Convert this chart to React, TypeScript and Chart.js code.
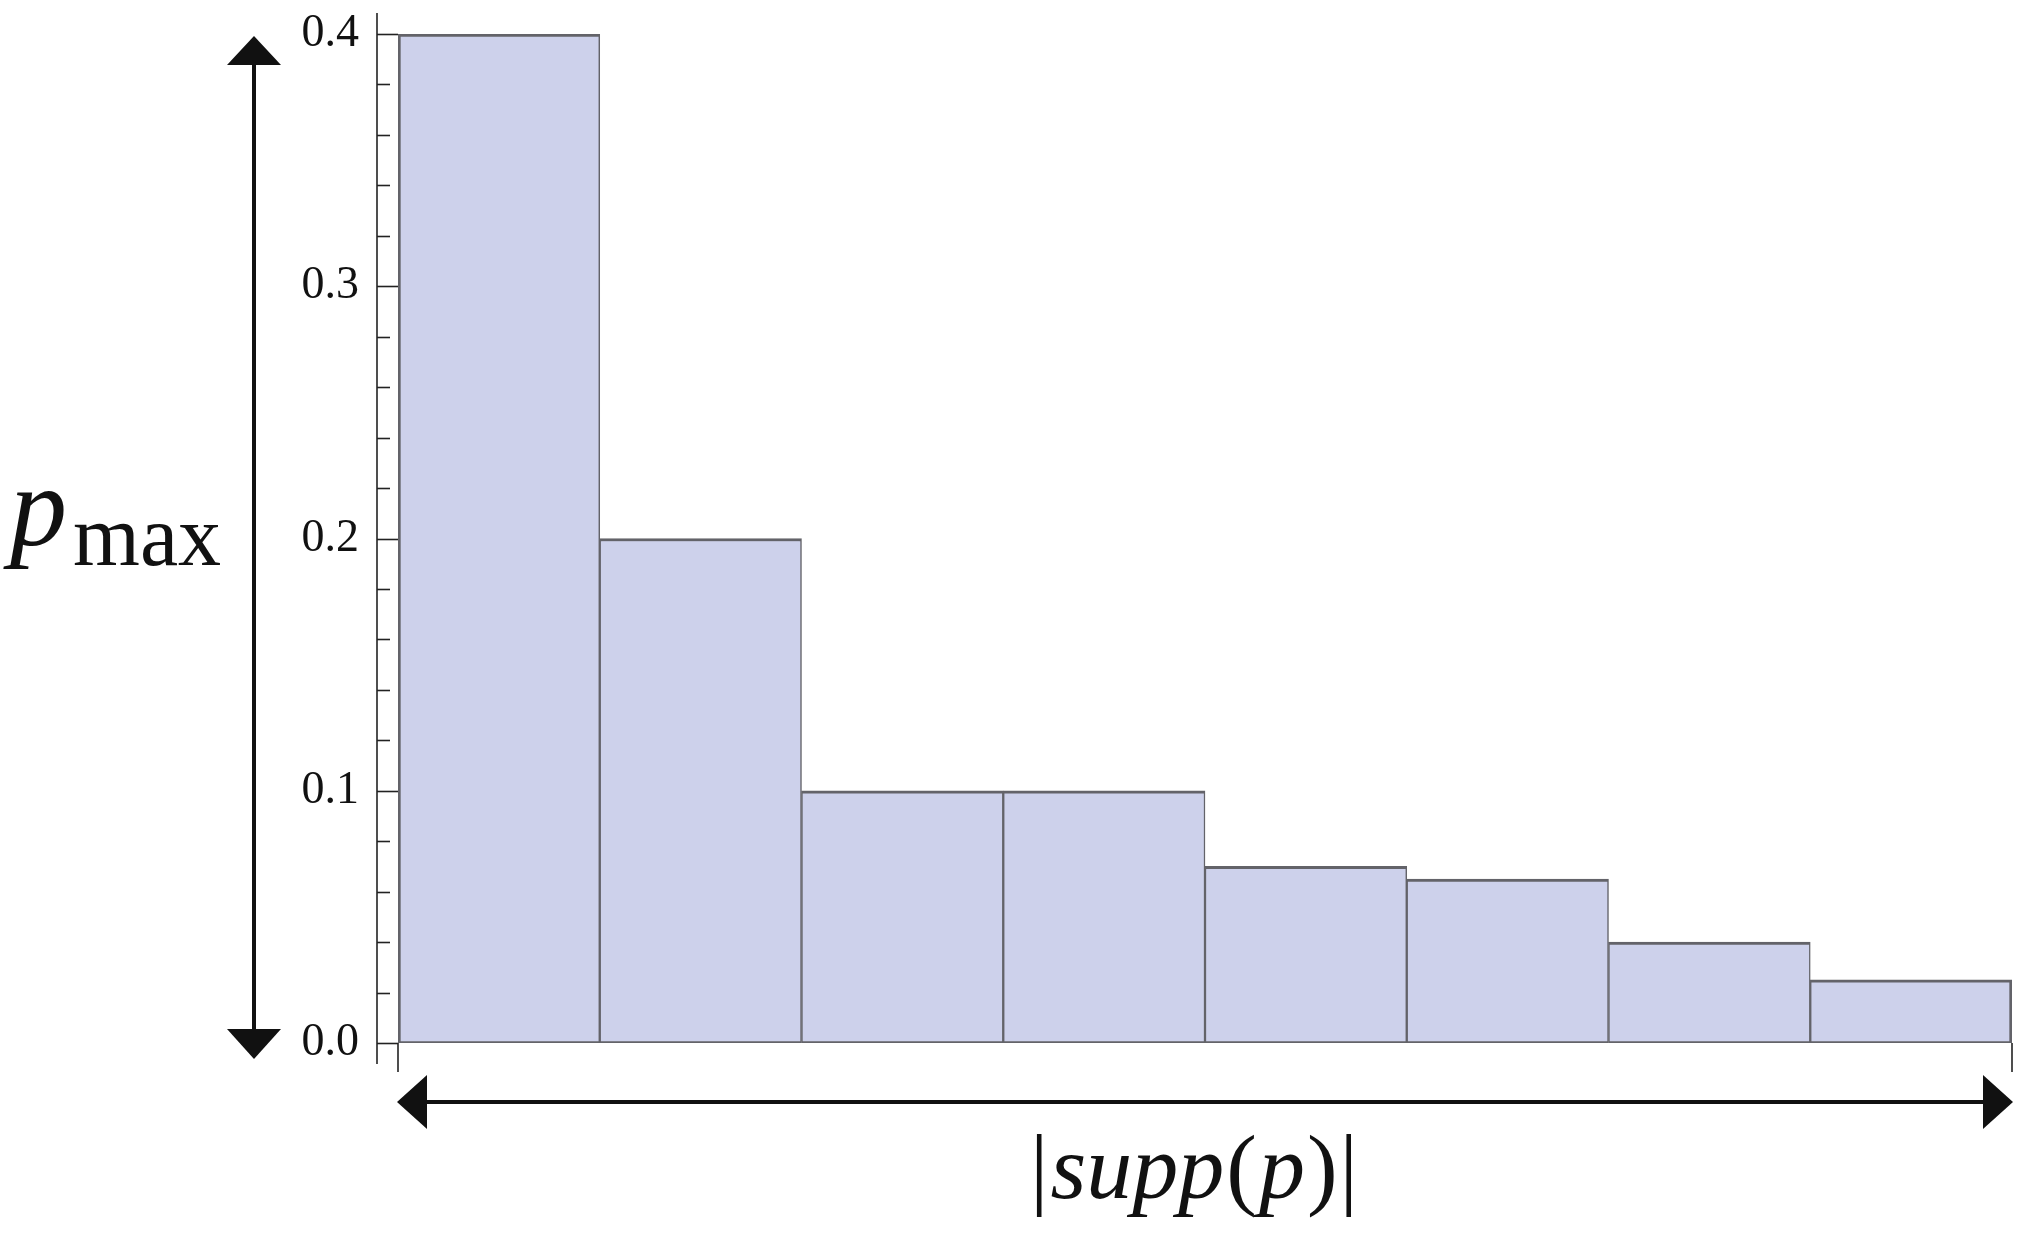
import React, { useEffect, useRef } from "react";
import { Chart, registerables } from "chart.js";

Chart.register(...registerables);

const categories = ["1", "2", "3", "4", "5", "6", "7", "8"];
const values = [0.4, 0.2, 0.1, 0.1, 0.07, 0.065, 0.04, 0.025];
const yMajorTicks = [0, 0.1, 0.2, 0.3, 0.4];
const yMinorStep = 0.02;
const yLabel = { main: "p", sub: "max" };
const xLabelParts = [
  { t: "|", italic: false },
  { t: "supp", italic: true },
  { t: "(", italic: false },
  { t: "p", italic: true },
  { t: ")", italic: false },
  { t: "|", italic: false },
];

const FILL = "#cdd1eb";
const EDGE = "#636369";
const INK = "#111111";
const SERIF = '"Liberation Serif", "Times New Roman", serif';

const decorPlugin = {
  id: "decor",
  afterDraw(chart: any) {
    const { ctx, chartArea } = chart;
    const y = chart.scales.y;
    const left = chartArea.left;
    const right = chartArea.right;
    const y0 = y.getPixelForValue(0);
    const yTop = y.getPixelForValue(0.4);
    const axisX = left - 21;
    ctx.save();
    // y axis line
    ctx.strokeStyle = "#222";
    ctx.lineWidth = 1.6;
    ctx.beginPath();
    ctx.moveTo(axisX, yTop - 21);
    ctx.lineTo(axisX, y0 + 21);
    ctx.stroke();
    // ticks
    for (let k = 0; k * yMinorStep <= 0.4 + 1e-9; k++) {
      const v = k * yMinorStep;
      const py = Math.round(y.getPixelForValue(v)) + 0.5;
      const major = yMajorTicks.some((m) => Math.abs(m - v) < 1e-9);
      ctx.beginPath();
      ctx.moveTo(axisX, py);
      ctx.lineTo(major ? left : axisX + 13, py);
      ctx.stroke();
    }
    // x edge ticks
    [left, right].forEach((px) => {
      ctx.beginPath();
      ctx.moveTo(px, y0);
      ctx.lineTo(px, y0 + 29);
      ctx.stroke();
    });

    // vertical double arrow
    const ax = axisX - 123;
    ctx.fillStyle = INK;
    ctx.strokeStyle = INK;
    ctx.lineWidth = 4;
    const vTop = yTop + 2;
    const vBot = y0 + 16;
    ctx.beginPath();
    ctx.moveTo(ax, vTop + 25);
    ctx.lineTo(ax, vBot - 25);
    ctx.stroke();
    ctx.beginPath();
    ctx.moveTo(ax, vTop);
    ctx.lineTo(ax - 27, vTop + 29);
    ctx.lineTo(ax + 27, vTop + 29);
    ctx.closePath();
    ctx.fill();
    ctx.beginPath();
    ctx.moveTo(ax, vBot);
    ctx.lineTo(ax - 27, vBot - 30);
    ctx.lineTo(ax + 27, vBot - 30);
    ctx.closePath();
    ctx.fill();

    // horizontal double arrow
    const hy = y0 + 59;
    ctx.beginPath();
    ctx.moveTo(left + 25, hy);
    ctx.lineTo(right - 25, hy);
    ctx.stroke();
    ctx.beginPath();
    ctx.moveTo(left - 1, hy);
    ctx.lineTo(left + 29, hy - 27);
    ctx.lineTo(left + 29, hy + 27);
    ctx.closePath();
    ctx.fill();
    ctx.beginPath();
    ctx.moveTo(right + 1, hy);
    ctx.lineTo(right - 29, hy - 27);
    ctx.lineTo(right - 29, hy + 27);
    ctx.closePath();
    ctx.fill();

    // y label p_max
    ctx.fillStyle = INK;
    ctx.textAlign = "left";
    ctx.textBaseline = "alphabetic";
    ctx.font = `italic 114px ${SERIF}`;
    ctx.fillText(yLabel.main, 10, 545);
    const pw = ctx.measureText(yLabel.main).width;
    ctx.font = `86px ${SERIF}`;
    ctx.fillText(yLabel.sub, 10 + pw + 6, 565);

    // x label |supp(p)|
    const fontFor = (it: boolean) => `${it ? "italic " : ""}92px ${SERIF}`;
    const gap = 2;
    let total = 0;
    xLabelParts.forEach((p) => {
      ctx.font = fontFor(p.italic);
      total += ctx.measureText(p.t).width + gap;
    });
    let cx = (left + right) / 2 - 10 - total / 2;
    xLabelParts.forEach((p) => {
      ctx.font = fontFor(p.italic);
      ctx.fillText(p.t, cx, 1198);
      cx += ctx.measureText(p.t).width + gap;
    });
    ctx.restore();
  },
};

export default function App() {
  const ref = useRef<HTMLCanvasElement | null>(null);
  useEffect(() => {
    document.body.style.margin = "0";
    const last = values.length - 1;
    const chart = new Chart(ref.current as HTMLCanvasElement, {
      type: "bar",
      data: {
        labels: categories,
        datasets: [
          {
            data: values,
            backgroundColor: FILL,
            borderColor: EDGE,
            borderSkipped: false,
            borderWidth: (c: any) => ({
              top: 3,
              bottom: 2,
              left: c.dataIndex === 0 ? 3 : 1.5,
              right: c.dataIndex === last ? 3 : 1.5,
            }),
            categoryPercentage: 1,
            barPercentage: 1,
          } as any,
        ],
      },
      options: {
        animation: false,
        responsive: false,
        maintainAspectRatio: false,
        layout: { autoPadding: false, padding: { left: 0, right: 12, top: 34, bottom: 201 } },
        plugins: { legend: { display: false }, tooltip: { enabled: false } },
        scales: {
          x: { display: false },
          y: {
            min: 0,
            max: 0.4,
            afterFit: (s: any) => {
              s.width = 398;
              s.paddingTop = 0;
              s.paddingBottom = 0;
            },
            grid: { display: false, drawTicks: false },
            border: { display: false },
            ticks: {
              stepSize: 0.1,
              padding: 39,
              color: INK,
              font: { family: SERIF, size: 46 },
              callback: (v: any) => Number(v).toFixed(1),
            },
          },
        },
      },
      plugins: [decorPlugin],
    });
    return () => chart.destroy();
  }, []);
  return (
    <div style={{ position: "absolute", left: 0, top: 0, width: 2024, height: 1244, background: "#fff" }}>
      <canvas ref={ref} width={2024} height={1244} />
    </div>
  );
}
